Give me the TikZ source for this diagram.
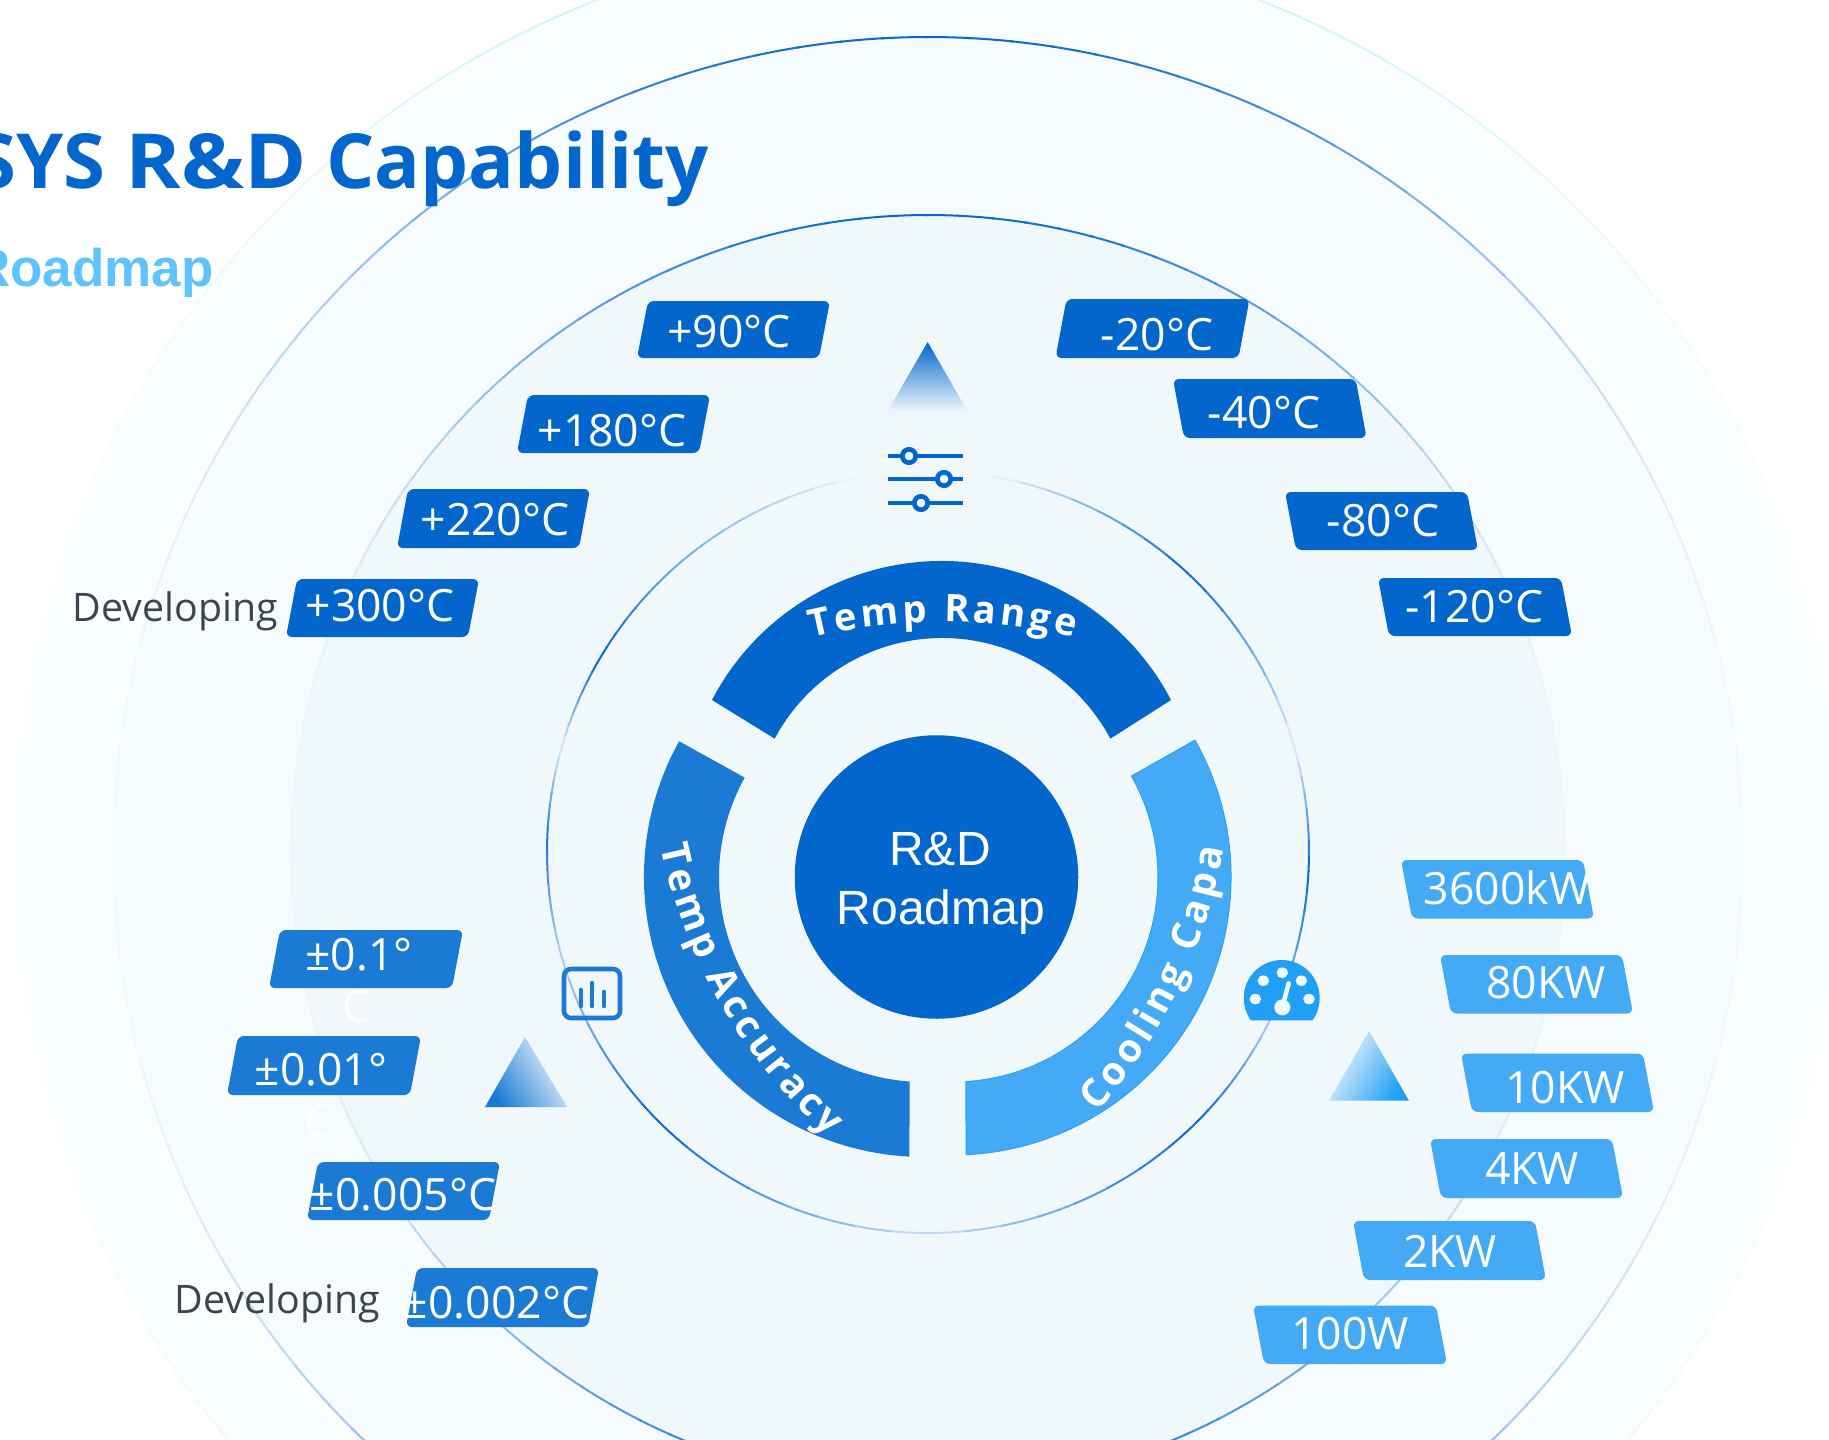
\documentclass[tikz,border=0pt]{standalone}
\usepackage{fontspec}
\setmainfont{Open Sans}
\newfontfamily\arialfont{Liberation Sans}
\usetikzlibrary{calc,decorations.text}
\definecolor{deep}{HTML}{0366CC}
\definecolor{mid}{HTML}{1B7AD4}
\definecolor{sky}{HTML}{45AAF5}
\definecolor{gauge}{HTML}{209FF5}
\definecolor{subt}{HTML}{5FC3FF}
\definecolor{greytext}{HTML}{3A4550}
\definecolor{zoneA}{HTML}{FBFEFE}
\definecolor{zoneB}{HTML}{F6FBFD}
\definecolor{zoneC}{HTML}{F1F8FC}
\definecolor{edgeA}{HTML}{BFF5F2}
\tikzset{
  tagtext/.style={text=white,inner sep=0pt,font=\fontsize{44.5}{44.5}\selectfont},
  devtext/.style={text=greytext,inner sep=0pt,font=\fontsize{39.3}{39.3}\selectfont},
  ghost/.style={text=white,inner sep=0pt,font=\fontsize{44.5}{44.5}\selectfont,opacity=.8},
  arctext/.style args={#1 at #2}{decorate,decoration={text along path,text align=fit to path,text color=white,
     text={|\fontsize{#2}{#2}\selectfont\bfseries|#1}}},
}
% name, x1, x2, y1, y2, colour, lean (p = /, n = \), text, text position
\newcommand{\lbltag}[9]{%
  \ifx#7p
    \fill[#6,rounded corners=6pt] ({#2+11},#4) -- (#3,#4) -- ({#3-11},#5) -- (#2,#5) -- cycle;
  \else
    \fill[#6,rounded corners=6pt] (#2,#4) -- ({#3-11},#4) -- (#3,#5) -- ({#2+11},#5) -- cycle;
  \fi
  \node[tagtext] (#1) at (#9) {#8};
}
\newcommand{\softring}[4]{% radius, colour, base, width
  \foreach \a in {0,3,...,357}{
    \pgfmathsetmacro\k{3+95*abs(sin(\a+1.5))^3}
    \pgfmathsetmacro\b{\a+3.3}
    \draw[line width=#4pt,color=#2!\k!#3] ($(928,852)+(\a:#1pt)$) arc (\a:\b:#1pt);
  }
}
\begin{document}
\begin{tikzpicture}[x=1pt,y=-1pt]
\useasboundingbox (0,0) rectangle (1829,1440);
\clip (0,0) rectangle (1829,1440);
\fill[white] (0,0) rectangle (1829,1440);
% concentric zones
\fill[zoneA] (928,852) circle[radius=914pt];
\fill[zoneB] (928,852) circle[radius=815pt];
\fill[zoneC] (928,852) circle[radius=637pt];
\softring{914}{edgeA}{white}{2}
\softring{815}{deep}{zoneA}{2}
\softring{637}{deep}{zoneB}{2}
% inner ring with three sweeps
\foreach \sa/\sb/\ka/\kb in {-90/-45/15/100,-45/-27/100/30,-27/-3/30/100,-3/16/100/5,16/47/5/100,47/80/100/0,
   80/100/0/0,100/130/0/50,130/150/50/100,150/164/100/8,164/178/8/90,178/196/90/25,196/225/25/100,225/270/100/15}{
  \foreach \i in {0,...,7}{
    \pgfmathsetmacro\aa{\sa+(\sb-\sa)*\i/8}
    \pgfmathsetmacro\ab{\sa+(\sb-\sa)*(\i+1)/8+0.2}
    \pgfmathsetmacro\k{\ka+(\kb-\ka)*(\i+.5)/8}
    \draw[line width=2pt,color=deep!\k!zoneC] ($(928,852)+(\aa:381pt)$) arc (\aa:\ab:381pt);
  }
}
% ring sectors
\fill[deep] ($(941.5,820)+(152.4:259pt)$) arc (152.4:27.6:259pt)
   -- ($(942.5,828.3)+(28.1:190.3pt)$) arc (28.1:151.9:190.3pt) -- cycle;
\fill[mid] ($(924,877)+(151:280pt)$) arc (151:267:280pt)
   -- ($(924,877)+(266:205pt)$) arc (266:151:205pt) -- cycle;
\filldraw[fill=sky,draw=gauge!70!sky,line width=1pt] ($(953,877)+(29.5:278pt)$) arc (29.5:-87.3:278pt)
   -- ($(953,877)+(-86.4:205pt)$) arc (-86.4:29.5:205pt) -- cycle;
% ring lettering
\path[arctext={Temp Range at 38}] ($(943,1184)+(103.5:562pt)$) arc (103.5:76.5:562pt);
\path[arctext={Temp Accuracy at 39}] ($(1182,739)+(191.7:532pt)$) arc (191.7:228.4:532pt);
\path[arctext={Cooling Capa at 39}] ($(700,760)+(-41.6:531pt)$) arc (-41.6:-9.6:531pt);
% centre
\node[circle,fill=deep,minimum size=283.5pt,inner sep=0pt] (hub) at (936.5,877) {};
\node[text=white,inner sep=0pt,font=\arialfont\fontsize{48}{48}\selectfont,anchor=base] (hubA) at (940,865) {R\&D};
\node[text=white,inner sep=0pt,font=\arialfont\fontsize{48}{48}\selectfont,anchor=base] (hubB) at (941,924) {Roadmap};
% title
\node[text=deep,inner sep=0pt,anchor=base east,font=\fontsize{76}{76}\selectfont\bfseries] (title) at (709,188) {SYS \scalebox{1.11}[1]{R\&D} Capability};
\node[text=subt,inner sep=0pt,anchor=base east,font=\arialfont\fontsize{53}{53}\selectfont\bfseries] (subtitle) at (214,286) {Roadmap};
% triangles
\shade[top color=deep,bottom color=zoneC] (927.7,342) -- (968,412) -- (887,412) -- cycle;
\shade[left color=mid,right color=zoneC,shading angle=120] (525,1037) -- (567,1107) -- (485,1107) -- cycle;
\shade[right color=gauge,left color=zoneC,shading angle=60] (1369,1031) -- (1409,1100.7) -- (1329,1100.7) -- cycle;
% slider icon
\foreach \yy/\xx in {456/909,479/944,503/921}{
  \draw[deep,line width=4.7pt] (888,\yy) -- (963,\yy);
  \filldraw[fill=zoneC,draw=deep,line width=4.7pt] (\xx,\yy) circle[radius=6.7pt];
}
% chart icon
\draw[mid,line width=4.6pt,rounded corners=7pt] (564,969) rectangle (620,1018);
\draw[mid,line width=4.6pt,line cap=round] (581,990) -- (581,1006);
\draw[mid,line width=4.6pt,line cap=round] (592,983) -- (592,1006);
\draw[mid,line width=4.6pt,line cap=round] (604,992) -- (604,1006);
% gauge icon
\fill[gauge] ($(1281.7,998)+(-36:38pt)$) arc (-36:216:38pt) -- cycle;
\foreach \px/\py in {76/147,100/92,157/68,214/92,237/147}{
  \fill[zoneC] ({1230+\px/3},{950+\py/3}) ellipse[x radius=5.8pt,y radius=5.2pt];
}
\fill[zoneC] ({1230+157/3},{950+172/3}) circle[radius=8pt];
\draw[zoneC,line width=4.5pt,line cap=round] ({1230+157/3},{950+172/3}) -- ({1230+176/3},{950+100/3});
% labels
\node[devtext,anchor=base west] (devA) at (72.5,621) {Developing};
\node[devtext,anchor=base west] (devB) at (174.5,1313) {Developing};
\lbltag{a1}{637}{830}{301}{358}{deep}{p}{+90°C}{729,332}
\lbltag{a2}{517}{710}{395}{453}{deep}{p}{+180°C}{612,431}
\lbltag{a3}{397}{590}{489}{548}{deep}{p}{+220°C}{495,520}
\lbltag{a4}{286}{479}{579}{637}{deep}{p}{+300°C}{380,606}
\lbltag{b1}{1055.5}{1249.5}{299}{358}{deep}{p}{-20°C}{1157,335}
\lbltag{b2}{1173}{1366.6}{379}{438}{deep}{n}{-40°C}{1264,413}
\lbltag{b3}{1285}{1478}{492}{550}{deep}{n}{-80°C}{1383,521}
\lbltag{b4}{1378}{1572}{578}{636}{deep}{n}{-120°C}{1474.5,607}
\lbltag{c1}{269}{463}{930}{988}{mid}{p}{±0.1°}{359,955}
\lbltag{c2}{227}{421}{1036}{1095}{mid}{p}{±0.01°}{321,1070}
\lbltag{c3}{307}{500}{1162}{1220}{mid}{p}{±0.005°C}{403,1195}
\lbltag{c4}{406}{599}{1268}{1327}{mid}{p}{±0.002°C}{496,1303}
\node[ghost] (c1b) at (357,1007) {C};
\node[ghost] (c2b) at (319,1122) {C};
\lbltag{d1}{1401}{1594}{860}{918.5}{sky}{n}{3600kW}{1507,887.5}
\lbltag{d2}{1440}{1633}{955}{1013.5}{sky}{n}{80KW}{1546,983}
\lbltag{d3}{1461}{1654}{1053.5}{1112}{sky}{n}{10KW}{1565,1088}
\lbltag{d4}{1430}{1623}{1139}{1198}{sky}{n}{4KW}{1532,1169}
\lbltag{d5}{1353}{1546}{1221}{1280}{sky}{n}{2KW}{1450,1251.5}
\lbltag{d6}{1253}{1447}{1305.5}{1364}{sky}{n}{100W}{1350,1333.5}
\end{tikzpicture}
\end{document}
